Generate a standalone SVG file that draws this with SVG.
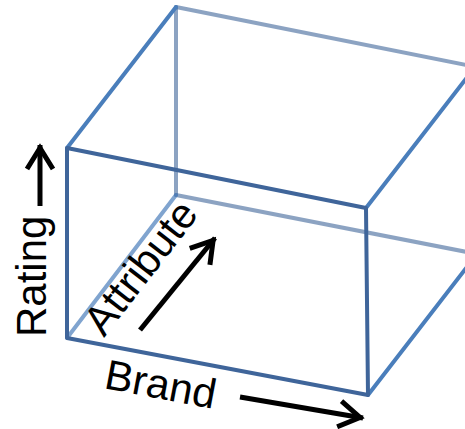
<svg xmlns="http://www.w3.org/2000/svg" width="465" height="429" viewBox="0 0 465 429">
  <style>
    .edge { fill: none; stroke-width: 4; stroke-linecap: round; stroke-linejoin: round; }
    .front { stroke: #3F659A; }
    .diag { stroke: #4A7EBB; }
    .back { stroke: #3F659A; stroke-opacity: 0.6; }
    .backdiag { stroke: #4A7EBB; stroke-opacity: 0.7; }
    .lbl { font-family: "Liberation Sans", Arial, sans-serif; font-size: 42px; fill: #000; }
    .arrow { stroke: #000; stroke-width: 5; fill: none; marker-end: url(#head); }
  </style>
  <defs>
    <marker id="head" markerUnits="userSpaceOnUse" markerWidth="40" markerHeight="40" refX="0" refY="0" viewBox="-30 -20 40 40" orient="auto" overflow="visible">
      <path d="M -24 -13 L -3 0 L -24 13" fill="none" stroke="#000" stroke-width="5" stroke-linejoin="miter"/>
    </marker>
  </defs>
  <rect width="465" height="429" fill="#fff"/>
  <g id="cube">
    <g id="back-edges">
      <line class="edge back" x1="176" y1="7" x2="476" y2="67"/>
      <line class="edge back" x1="176" y1="7" x2="176" y2="195"/>
      <line class="edge back" x1="176" y1="195" x2="477" y2="254"/>
      <line class="edge backdiag" x1="67" y1="338" x2="176" y2="195"/>
    </g>
    <g id="side-edges">
      <line class="edge diag" x1="67" y1="148" x2="176" y2="7"/>
      <line class="edge diag" x1="366" y1="208" x2="475" y2="67"/>
      <line class="edge diag" x1="368" y1="395" x2="477" y2="254"/>
    </g>
    <g id="front-face">
      <polygon class="edge front" points="67,148 366,208 368,395 67,338"/>
    </g>
  </g>
  <g id="connectors">
    <line class="arrow" x1="40" y1="206" x2="40" y2="145"/>
    <line class="arrow" x1="140" y1="330" x2="215" y2="238"/>
    <line class="arrow" x1="240" y1="397" x2="363" y2="418"/>
  </g>
  <g id="label-rating">
    <text class="lbl" transform="translate(46,337) rotate(-90)">Rating</text>
  </g>
  <g id="label-attribute">
    <text class="lbl" transform="translate(104,338) rotate(-52.3)">Attribute</text>
  </g>
  <g id="label-brand">
    <text class="lbl" transform="translate(103,388) rotate(10.7)">Brand</text>
  </g>
</svg>
